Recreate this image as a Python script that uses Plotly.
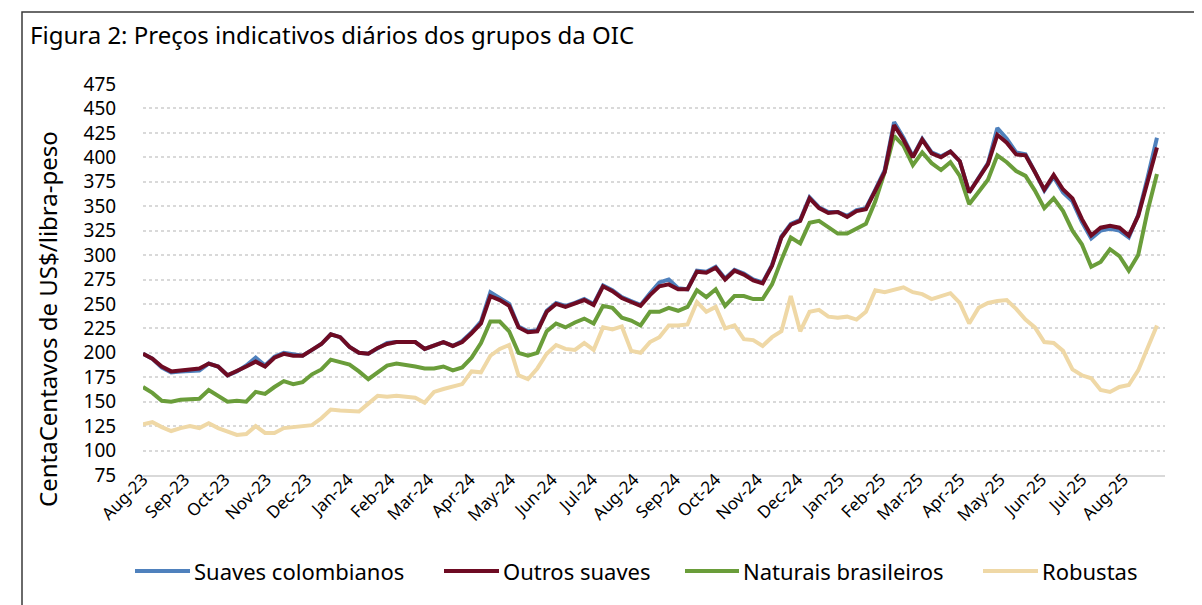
import pandas as pd
import plotly.graph_objects as go

# Weekly sampling dates (every 7 days from 1 Aug 2023)
dates = pd.date_range("2023-08-01", periods=109, freq="7D")
month_ticks = pd.date_range("2023-08-01", "2025-08-01", freq="MS")

outros_suaves = [
    199, 194, 186, 181, 182, 183, 184, 189, 186, 177,
    181, 186, 191, 186, 195, 199, 197, 197, 203, 209,
    219, 216, 206, 200, 199, 205, 209, 211, 211, 211,
    204, 207, 211, 207, 211, 220, 230, 258, 254, 248,
    226, 221, 222, 242, 250, 247, 250, 254, 249, 268,
    263, 256, 252, 248, 259, 268, 270, 265, 265, 283,
    282, 287, 275, 284, 280, 274, 271, 289, 318, 331,
    335, 358, 348, 343, 344, 339, 345, 347, 366, 385,
    433, 418, 400, 418, 404, 400, 406, 396, 364, 378,
    393, 423, 415, 403, 402, 385, 367, 382, 367, 358,
    337, 320, 328, 330, 328, 320, 340, 375, 410,
]

suaves_colombianos = [
    199, 194, 185, 180, 181, 182, 182, 189, 186, 177,
    181, 187, 195, 187, 196, 200, 198, 197, 203, 209,
    219, 216, 206, 200, 199, 205, 210, 211, 211, 211,
    204, 207, 211, 207, 212, 221, 232, 262, 256, 250,
    227, 222, 223, 243, 251, 248, 251, 255, 250, 269,
    264, 257, 253, 249, 261, 272, 275, 266, 265, 284,
    283, 288, 276, 285, 281, 275, 272, 290, 319, 332,
    336, 359, 349, 344, 344, 340, 346, 348, 367, 387,
    436, 420, 401, 419, 405, 401, 406, 396, 364, 379,
    394, 430, 419, 405, 403, 385, 366, 380, 364, 355,
    334, 317, 325, 327, 325, 318, 341, 379, 420,
]

naturais_brasileiros = [
    165, 159, 151, 150, 152, 152, 153, 162, 156, 150,
    151, 150, 160, 158, 165, 171, 168, 170, 178, 183,
    193, 191, 188, 181, 173, 180, 187, 189, 188, 186,
    184, 184, 186, 182, 185, 195, 210, 232, 232, 222,
    200, 197, 200, 222, 230, 226, 231, 235, 230, 248,
    246, 236, 233, 228, 242, 242, 246, 243, 247, 264,
    257, 265, 248, 258, 258, 255, 255, 270, 295, 318,
    312, 333, 335, 328, 322, 322, 327, 332, 355, 385,
    422, 412, 392, 405, 394, 387, 395, 381, 352, 365,
    377, 402, 395, 386, 381, 366, 348, 358, 345, 325,
    311, 288, 293, 306, 299, 284, 300, 345, 383,
]

robustas = [
    127, 129, 124, 120, 123, 125, 123, 128, 123, 120,
    116, 117, 125, 118, 118, 123, 124, 125, 126, 133,
    142, 141, 140, 140, 148, 156, 155, 156, 155, 154,
    149, 160, 163, 166, 168, 181, 180, 197, 204, 208,
    177, 173, 184, 199, 208, 204, 203, 210, 203, 226,
    224, 227, 202, 200, 211, 216, 228, 228, 229, 252,
    242, 247, 225, 228, 214, 213, 207, 216, 222, 258,
    222, 242, 244, 237, 236, 237, 234, 242, 264, 262,
    265, 267, 262, 260, 255, 258, 261, 251, 230, 246,
    251, 253, 254, 245, 234, 226, 211, 210, 202, 183,
    177, 174, 162, 160, 165, 167, 182, 205, 228,
]

series_names = ["Suaves colombianos", "Outros suaves", "Naturais brasileiros", "Robustas"]
series_values = [suaves_colombianos, outros_suaves, naturais_brasileiros, robustas]
series_colors = ["#4F81BD", "#6E0B23", "#6A9D3A", "#EFD8A6"]

FONT = "Noto Sans"

fig = go.Figure()
draw_order = [3, 2, 0, 1]
for i in draw_order:
    fig.add_trace(go.Scatter(
        x=dates, y=series_values[i], mode="lines", name=series_names[i],
        line=dict(color=series_colors[i], width=4),
        showlegend=False,
    ))

# The page body adds an 8px offset; positions below are in screen pixels.
OFF = 8
W, H = 1202, 605
PX0, PX1, PY0, PY1 = 143, 1165, 84, 475   # plot area on screen
L = PX0 - OFF
T = PY0 - OFF
R = W - (PX1 - OFF)
B = H - (PY1 - OFF)
pw, ph = PX1 - PX0, PY1 - PY0

def px_x(sx):
    return (sx - PX0) / pw

def px_y(sy):
    return (PY1 - sy) / ph

# manual legend (screen-pixel placement)
legend_line_x = [(135, 190), (444, 499), (685, 739), (983, 1038)]
legend_y = 571
shapes = [
    dict(type="rect", xref="paper", yref="paper",
         x0=px_x(22), x1=px_x(1199), y0=px_y(612), y1=px_y(12),
         line=dict(color="#3A3A3A", width=1.5), layer="below"),
]
annotations = [
    dict(text="Figura 2: Preços indicativos diários dos grupos da OIC",
         xref="paper", yref="paper", x=px_x(28), y=px_y(35),
         xanchor="left", yanchor="middle", showarrow=False,
         font=dict(size=24, family=FONT)),
    dict(text="CentaCentavos de US$/libra-peso",
         xref="paper", yref="paper", x=px_x(47), y=px_y(319),
         xanchor="center", yanchor="middle", showarrow=False,
         textangle=-90, font=dict(size=24, family=FONT)),
]
for (x0, x1), name, color in zip(legend_line_x, series_names, series_colors):
    shapes.append(dict(type="line", xref="paper", yref="paper",
                       x0=px_x(x0), x1=px_x(x1), y0=px_y(legend_y), y1=px_y(legend_y),
                       line=dict(color=color, width=4)))
    annotations.append(dict(text=name, xref="paper", yref="paper",
                            x=px_x(x1 + 2), y=px_y(legend_y),
                            xanchor="left", yanchor="middle", showarrow=False,
                            font=dict(size=22, family=FONT)))

fig.update_layout(
    width=W, height=H,
    margin=dict(l=L, r=R, t=T, b=B, autoexpand=False),
    paper_bgcolor="white", plot_bgcolor="white",
    font=dict(family=FONT, color="#000000"),
    showlegend=False,
    xaxis=dict(
        type="date",
        range=["2023-08-01", "2025-09-01"],
        tickvals=list(month_ticks), tickformat="%b-%y",
        tickangle=-45, tickfont=dict(size=17, family=FONT),
        showgrid=False, showline=True, linecolor="#D9D9D9", linewidth=2,
        ticks="", zeroline=False, ticklabelstandoff=-14,
    ),
    yaxis=dict(
        range=[75, 475], dtick=25, tick0=75,
        showgrid=True, gridcolor="#D9D9D9", gridwidth=2, griddash="dot",
        tickfont=dict(size=19, family=FONT),
        ticks="outside", ticklen=22, tickcolor="rgba(0,0,0,0)",
        showline=False, zeroline=False,
    ),
    annotations=annotations,
    shapes=shapes,
)

fig.write_html("out.html")
